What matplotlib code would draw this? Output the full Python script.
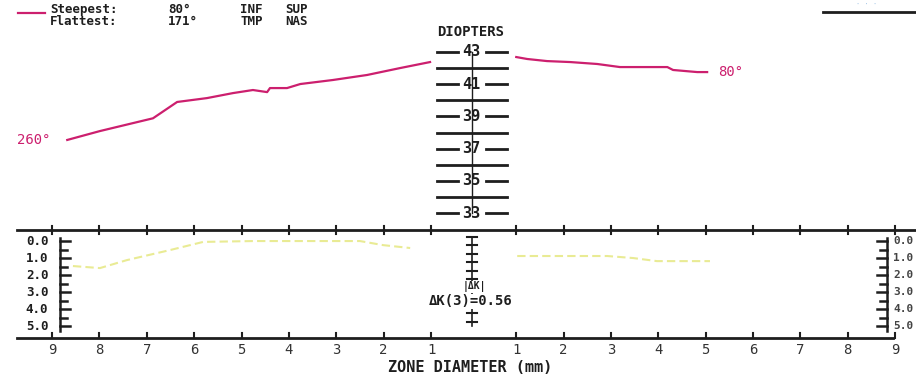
import numpy as np
import matplotlib
matplotlib.use('Agg')
import matplotlib.pyplot as plt

plt.rcParams['font.family'] = ['DejaVu Sans Mono', 'DejaVu Sans']

# Keratometry along the two meridians (mm from centre, diopters)
steep_mm = [8.68, 7.99, 6.87, 6.36, 5.73, 5.18, 4.76, 4.46, 4.40, 4.04, 3.76, 3.07, 2.35, 1.65, 1.02]
steep_k = [37.54, 38.09, 38.88, 39.89, 40.13, 40.44, 40.63, 40.50, 40.75, 40.75, 41.00, 41.25, 41.56, 41.99, 42.36]
flat_mm = [1.00, 1.23, 1.65, 2.14, 2.71, 3.19, 4.19, 4.31, 4.82, 5.03]
flat_k = [42.67, 42.55, 42.42, 42.36, 42.24, 42.05, 42.05, 41.87, 41.74, 41.74]

# |dK| curve in lower panel
dk_left_mm = [8.56, 7.99, 7.42, 6.51, 5.81, 4.76, 3.91, 3.13, 2.50, 2.01, 1.44]
dk_left = [1.47, 1.59, 1.12, 0.53, 0.05, 0.0, 0.0, 0.0, 0.0, 0.24, 0.41]
dk_right_mm = [1.02, 1.99, 2.92, 3.47, 3.97, 4.46, 5.09]
dk_right = [0.88, 0.88, 0.88, 1.00, 1.18, 1.18, 1.18]

diopter_ticks = list(range(33, 44))
diopter_labels = [43, 41, 39, 37, 35, 33]
zone_ticks = list(range(1, 10))
dk_ticks = [0, 1, 2, 3, 4, 5]

MAG = '#cc1f6e'
INK = '#1e1e1e'
YEL = '#e4e67a'


def to_u(mm, side):
    # left meridian runs outward to the left, right one to the right
    mm = np.asarray(mm, dtype=float)
    return 0.1 - mm if side == 'L' else mm - 0.1


fig = plt.figure(figsize=(9.16, 3.83), dpi=100)
top = fig.add_axes([0, 0, 1, 1])
top.set_xlim(-10.0, 9.34)
top.set_ylim(22.5, 46.2)
top.axis('off')

bot = fig.add_axes([0, 0, 1, 1])
bot.set_xlim(-10.0, 9.34)
bot.set_ylim(8.35, -14.18)
bot.axis('off')
bot.patch.set_alpha(0)

# ---- top panel: curves
top.plot(to_u(steep_mm, 'L'), steep_k, color=MAG, lw=1.6)
top.plot(to_u(flat_mm, 'R'), flat_k, color=MAG, lw=1.6)
top.text(-8.94, 37.53, '260°', color=MAG, fontsize=10, ha='right', va='center')
top.text(5.16, 41.74, '80°', color=MAG, fontsize=10, ha='left', va='center')

# diopter scale
cx = -0.03
top.plot([cx, cx], [33, 43], color=INK, lw=1)
for d in diopter_ticks:
    if d in diopter_labels:
        top.plot([-0.77, -0.33], [d, d], color=INK, lw=2)
        top.plot([0.27, 0.70], [d, d], color=INK, lw=2)
        top.text(cx - 0.02, d, str(d), fontsize=11, fontweight='bold', ha='center', va='center', color=INK)
    else:
        top.plot([-0.77, 0.70], [d, d], color=INK, lw=2)
top.text(-0.07, 44.22, 'DIOPTERS', fontsize=10, fontweight='bold', ha='center', va='center', color=INK)

# legend block
top.plot([-9.62, -9.05], [45.39, 45.39], color=MAG, lw=1.6)
for u, w1, w2 in [(-8.94, 'Steepest:', 'Flattest:'), (-6.45, '80°', '171°'),
                  (-4.93, 'INF', 'TMP'), (-3.98, 'SUP', 'NAS')]:
    top.text(u, 45.6, w1, fontsize=9, fontweight='bold', ha='left', va='center', color=INK)
    top.text(u, 44.84, w2, fontsize=9, fontweight='bold', ha='left', va='center', color=INK)
top.plot([7.38, 9.34], [45.46, 45.46], color=INK, lw=2)
top.text(8.3, 45.95, '· · ·', fontsize=5, color='#9ec3e6', ha='center', va='center')

# ---- bottom panel frame
bot.plot([-9.64, 9.34], [-0.65, -0.65], color=INK, lw=2)
bot.plot([-9.64, 8.86], [5.71, 5.71], color=INK, lw=2)
for m in zone_ticks:
    for side in 'LR':
        u = float(to_u(m, side))
        bot.plot([u, u], [-0.9, -0.4], color=INK, lw=1.5)
        bot.plot([u, u], [5.71, 5.4], color=INK, lw=1.5)
        bot.text(u, 6.41, str(m), fontsize=10, ha='center', va='center', color='#333333')
bot.text(-0.07, 7.45, 'ZONE DIAMETER (mm)', fontsize=11, fontweight='bold', ha='center', va='center', color=INK)

# side dK axes
for ax_u, sgn in [(-8.73, 1), (8.73, -1)]:
    bot.plot([ax_u, ax_u], [-0.2, 5.3], color=INK, lw=1.8)
    for v in np.arange(0, 5.01, 0.5):
        ln = 0.21 if v == int(v) else 0.14
        bot.plot([ax_u, ax_u + sgn * ln], [v, v], color=INK, lw=1.8)
for v in dk_ticks:
    bot.text(-8.98, v, f'{v:.1f}', fontsize=9, fontweight='bold', ha='right', va='center', color=INK)
    bot.text(8.86, v, f'{v:.1f}', fontsize=8, fontweight='bold', ha='left', va='center', color='#444444')

# centre dK scale
bot.plot([cx, cx], [-0.25, 5.0], color=INK, lw=1.2)
for v in np.arange(-0.25, 5.01, 0.5):
    bot.plot([cx - 0.1, cx + 0.1], [v, v], color=INK, lw=1.5)
bot.text(0.02, 2.68, '|ΔK|', fontsize=7, fontweight='bold', ha='center', va='center', color=INK,
         bbox=dict(facecolor='white', edgecolor='none', pad=0.3))
bot.text(-0.07, 3.55, 'ΔK(3)=0.56', fontsize=10, fontweight='bold', ha='center', va='center', color=INK,
         bbox=dict(facecolor='white', edgecolor='none', pad=0.3))

# faint dK curve
bot.plot(to_u(dk_left_mm, 'L'), dk_left, color=YEL, lw=1.5, ls=(0, (4, 2)), alpha=0.8)
bot.plot(to_u(dk_right_mm, 'R'), dk_right, color=YEL, lw=1.5, ls=(0, (4, 2)), alpha=0.8)

fig.savefig('out.png', dpi=100)
